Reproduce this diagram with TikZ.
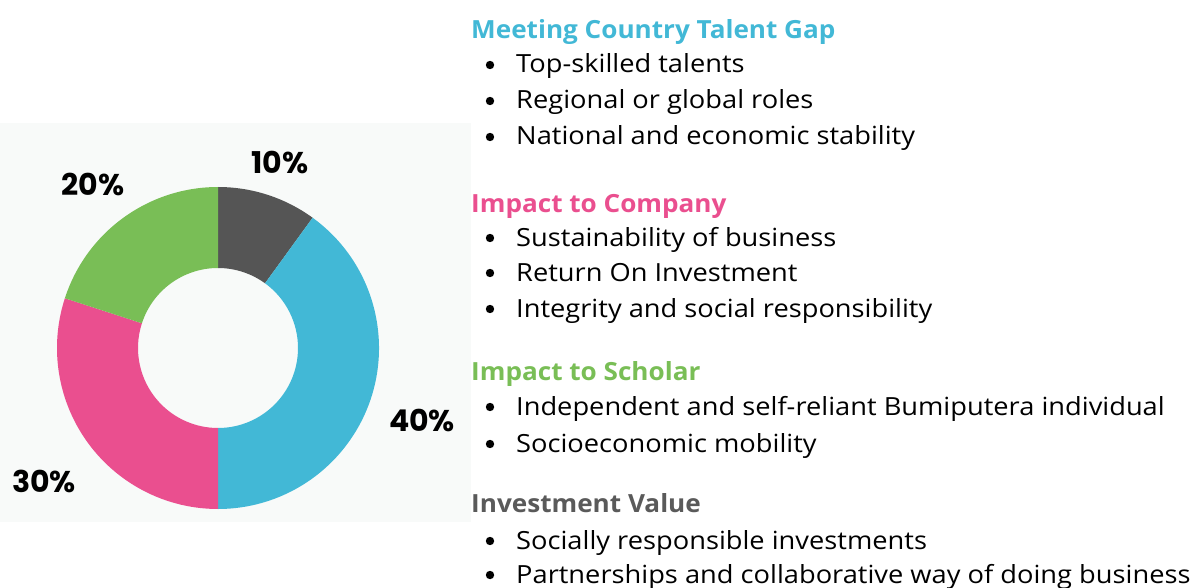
\documentclass[tikz,border=0pt]{standalone}
\usepackage{fontspec}
\setmainfont{Open Sans}[FakeStretch=1.09]
\newfontfamily\headfont{Open Sans}[FakeStretch=1.045]
\newfontfamily\pctfont{Poppins}
\usetikzlibrary{positioning,calc}
\usepackage{xcolor}

\definecolor{segGray}{HTML}{555555}
\definecolor{segBlue}{HTML}{42B8D6}
\definecolor{segPink}{HTML}{EA4F8F}
\definecolor{segGreen}{HTML}{79BE56}
\definecolor{headGray}{HTML}{5A5A5A}
\definecolor{panelBg}{HTML}{F8FAF9}

\tikzset{
  pct/.style={font=\pctfont\bfseries\fontsize{30}{30}\selectfont,text=black,anchor=center,inner sep=0pt},
  heading/.style={font=\headfont\bfseries\fontsize{25}{25}\selectfont,anchor=base west,inner sep=0pt},
  item/.style={font=\fontsize{25}{25}\selectfont,anchor=base west,inner sep=0pt,text=black},
  dot/.style={fill=black,draw=none}
}

\begin{document}
\begin{tikzpicture}[x=1pt,y=-1pt]
    \useasboundingbox (0,0) rectangle (1199,588);

    % light panel behind the chart
    \fill[panelBg] (0,123) rectangle (471,522);

    % donut segments (start angle / end angle / colour)
    \begin{scope}[shift={(218,348)},yscale=-1]
      \foreach \a/\b/\c in {90/54/segGray,54/-90/segBlue,-90/-198/segPink,162/90/segGreen}{
        \fill[\c] (\a:161) arc[start angle=\a,end angle=\b,radius=161]
          -- (\b:80) arc[start angle=\b,end angle=\a,radius=80] -- cycle;
      }
    \end{scope}

    % percentage labels
    \node[pct] (pTen) at (280,162) {10\%};
    \node[pct] (pTwenty) at (93,184) {20\%};
    \node[pct] (pForty) at (422,420) {40\%};
    \node[pct] (pThirty) at (44,481) {30\%};

    % headings
    \node[heading,text=segBlue] (hGap) at (471,39) {Meeting Country Talent Gap};
    \node[heading,text=segPink] (hCompany) at (471,212) {Impact to Company};
    \node[heading,text=segGreen] (hScholar) at (471,380) {Impact to Scholar};
    \node[heading,text=headGray] (hValue) at (471,512) {Investment Value};

    % bullet lines (baseline / text)
    \foreach \y/\t [count=\k] in {73/Top-skilled talents,
                                  109/Regional or global roles,
                                  145/National and economic stability,
                                  246/Sustainability of business,
                                  281/Return On Investment,
                                  317/Integrity and social responsibility,
                                  415/Independent and self-reliant Bumiputera individual,
                                  452/Socioeconomic mobility,
                                  549/Socially responsible investments,
                                  583/Partnerships and collaborative way of doing business}{
      \fill[dot] (490,\y-8) circle (4.2);
      \node[item] (item\k) at (516,\y) {\t};
    }
  \end{tikzpicture}
\end{document}
